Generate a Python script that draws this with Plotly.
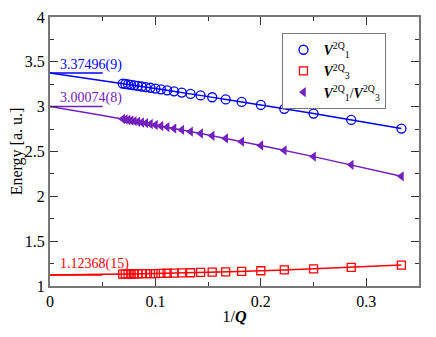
import plotly.graph_objects as go

# Q values used for the extrapolation, x axis is 1/Q
Q = [3, 3.5, 4, 4.5, 5, 5.5, 6, 6.5, 7, 7.5, 8, 8.5, 9, 9.5, 10,
     10.5, 11, 11.5, 12, 12.5, 13, 13.5, 14, 14.5]
inv_q = [1.0 / q for q in Q]

v1 = [2.756, 2.852, 2.923, 2.976, 3.019, 3.053, 3.081, 3.105, 3.125, 3.142,
      3.157, 3.171, 3.182, 3.193, 3.202, 3.211, 3.218, 3.225, 3.232, 3.238,
      3.243, 3.248, 3.253, 3.257]
v3 = [1.233, 1.208, 1.191, 1.179, 1.170, 1.163, 1.158, 1.154, 1.151, 1.148,
      1.146, 1.144, 1.142, 1.141, 1.139, 1.138, 1.137, 1.137, 1.136, 1.135,
      1.134, 1.134, 1.133, 1.133]
v13 = [2.223, 2.351, 2.443, 2.512, 2.567, 2.610, 2.646, 2.676, 2.701, 2.722,
       2.741, 2.757, 2.772, 2.785, 2.796, 2.806, 2.816, 2.824, 2.832, 2.839,
       2.845, 2.851, 2.857, 2.862]

# fitted curves
fit_x = [0, 0.05, 0.1, 0.15, 0.2, 0.25, 0.3333]
fit_v1 = [3.37496, 3.290, 3.202, 3.112, 3.019, 2.923, 2.756]
fit_v3 = [1.12368, 1.130, 1.139, 1.153, 1.170, 1.191, 1.233]
fit_v13 = [3.00074, 2.901, 2.796, 2.684, 2.567, 2.443, 2.223]

# extrapolated values
limits = [3.37496, 3.00074, 1.12368]
limit_labels = ["3.37496(9)", "3.00074(8)", "1.12368(15)"]
label_y = [3.47, 3.094, 1.25]

blue = "#0000ff"
red = "#ff0000"
purple = "#7221bc"
colors = [blue, purple, red]
serif = "Liberation Serif, serif"

fig = go.Figure()

for fy, c in [(fit_v1, blue), (fit_v13, purple), (fit_v3, red)]:
    fig.add_trace(go.Scatter(x=fit_x, y=fy, mode="lines", line_shape="spline",
                             line=dict(color=c, width=1.5), showlegend=False))

# short horizontal lines at the limits
for val, c in zip(limits, colors):
    fig.add_trace(go.Scatter(x=[0, 0.05], y=[val, val], mode="lines",
                             line=dict(color=c, width=1.5), showlegend=False))

fig.add_trace(go.Scatter(
    x=inv_q, y=v1, mode="markers",
    name="<b><i>V</i></b><sup>2Q</sup><sub>1</sub>",
    marker=dict(symbol="circle-open", size=9, color=blue, line=dict(width=1.3))))
fig.add_trace(go.Scatter(
    x=inv_q, y=v3, mode="markers",
    name="<b><i>V</i></b><sup>2Q</sup><sub>3</sub>",
    marker=dict(symbol="square-open", size=8, color=red, line=dict(width=1.3))))
fig.add_trace(go.Scatter(
    x=inv_q, y=v13, mode="markers",
    name="<b><i>V</i></b><sup>2Q</sup><sub>1</sub>/<b><i>V</i></b><sup>2Q</sup><sub>3</sub>",
    marker=dict(symbol="triangle-left", size=9, color=purple)))

for txt, ly, c in zip(limit_labels, label_y, colors):
    fig.add_annotation(x=0.008, y=ly, text=txt, showarrow=False, xanchor="left",
                       yanchor="middle", font=dict(family=serif, color=c, size=14))

axis_style = dict(showline=True, linecolor="#777777", linewidth=2, mirror="allticks",
                  ticks="inside", ticklen=8, tickwidth=1, tickcolor="#333333",
                  showgrid=False, zeroline=False, automargin=False,
                  tickfont=dict(family=serif, size=16, color="black"))

fig.update_xaxes(range=[0, 0.35], dtick=0.1, tick0=0,
                 minor=dict(ticks="inside", dtick=0.05, ticklen=4, tickcolor="#333333"),
                 title=dict(text="1/<b><i>Q</i></b>", font=dict(family=serif, size=16), standoff=2),
                 **axis_style)
fig.update_yaxes(range=[1, 4], dtick=0.5, tick0=1,
                 minor=dict(ticks="inside", dtick=0.25, ticklen=4, tickcolor="#333333"),
                 title=dict(text="Energy [a. u.]", font=dict(family=serif, size=16), standoff=4),
                 **axis_style)

fig.update_layout(
    width=436, height=337,
    margin=dict(l=42, r=25, t=9, b=59),
    plot_bgcolor="white", paper_bgcolor="white",
    font=dict(family=serif, size=16, color="black"),
    legend=dict(x=0.63, y=0.94, xanchor="left", yanchor="top",
                bordercolor="#777777", borderwidth=1, bgcolor="white",
                font=dict(family=serif, size=14), tracegroupgap=0, itemwidth=30),
)

fig.write_html("out.html")
